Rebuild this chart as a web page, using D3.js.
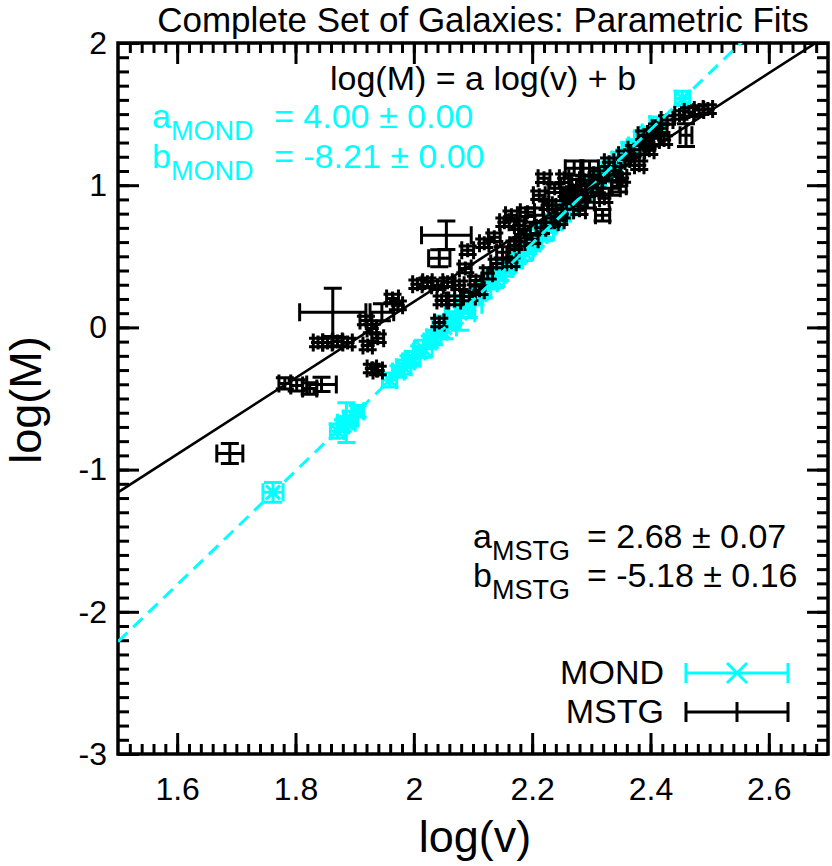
<!DOCTYPE html>
<html><head><meta charset="utf-8">
<script src="https://cdn.jsdelivr.net/npm/d3@7"></script>
<style>body{margin:0;background:#fff;} svg{display:block;font-family:"Liberation Sans",Arial,Helvetica,sans-serif;}</style>
</head><body><svg id="c" width="832" height="866"></svg>
<script>
const xTicks=[1.6,1.8,2,2.2,2.4,2.6];
const xTickLabels=["1.6","1.8","2","2.2","2.4","2.6"];
const yTicks=[-3,-2,-1,0,1,2];
const yTickLabels=["-3","-2","-1","0","1","2"];
const xDomain=[1.5,2.7];
const yDomain=[-3,2];

const fitNames=["MOND","MSTG"];
const fitA=[4.00,2.68];
const fitAErr=[0.00,0.07];
const fitB=[-8.21,-5.18];
const fitBErr=[0.00,0.16];

const mondLogV=[1.762,1.871,1.880,1.886,1.893,1.905,1.959,1.974,1.983,1.991,
1.998,2.009,2.016,2.027,2.034,2.046,2.052,2.063,2.069,2.078,
2.088,2.093,2.104,2.112,2.118,2.131,2.137,2.146,2.155,2.160,
2.171,2.178,2.186,2.193,2.201,2.206,2.215,2.221,2.229,2.238,
2.244,2.252,2.258,2.266,2.273,2.281,2.289,2.297,2.303,2.312,
2.321,2.330,2.338,2.347,2.356,2.364,2.373,2.385,2.396,2.411,
2.454];
const mondLogM=[-1.16,-0.73,-0.69,-0.67,-0.64,-0.59,-0.37,-0.31,-0.28,-0.24,
-0.22,-0.17,-0.15,-0.10,-0.07,-0.03,0.00,0.04,0.07,0.10,
0.14,0.16,0.21,0.24,0.26,0.31,0.34,0.37,0.41,0.43,
0.47,0.50,0.53,0.56,0.59,0.61,0.65,0.67,0.71,0.74,
0.77,0.80,0.82,0.85,0.88,0.91,0.95,0.98,1.00,1.04,
1.07,1.11,1.14,1.18,1.21,1.25,1.28,1.33,1.37,1.43,
1.61];
const mondErrV=[0.017,0.012,0.010,0.015,0.012,0.010,0.012,0.010,0.012,0.010,
0.012,0.010,0.015,0.010,0.012,0.010,0.020,0.012,0.010,0.025,
0.010,0.022,0.012,0.010,0.012,0.010,0.015,0.010,0.012,0.010,
0.012,0.010,0.015,0.010,0.012,0.010,0.010,0.015,0.010,0.012,
0.010,0.012,0.010,0.015,0.010,0.012,0.010,0.012,0.010,0.012,
0.010,0.012,0.010,0.012,0.010,0.012,0.010,0.012,0.010,0.012,
0.012];
const mondErrM=[0.07,0.05,0.04,0.14,0.05,0.04,0.05,0.04,0.05,0.04,
0.05,0.04,0.06,0.04,0.05,0.04,0.08,0.05,0.04,0.12,
0.04,0.09,0.05,0.04,0.05,0.04,0.06,0.04,0.05,0.04,
0.05,0.04,0.06,0.04,0.05,0.04,0.04,0.06,0.04,0.05,
0.04,0.05,0.04,0.06,0.04,0.05,0.04,0.05,0.04,0.05,
0.04,0.05,0.04,0.05,0.04,0.05,0.04,0.05,0.04,0.05,
0.05];

const mstgLogV=[1.689,1.782,1.802,1.824,1.844,1.838,1.854,1.871,1.888,1.863,
1.919,1.929,1.939,1.922,1.946,1.929,1.939,1.964,1.973,2.006,
2.023,2.040,2.057,2.043,2.055,2.087,2.077,2.094,2.111,2.091,
2.119,2.136,2.153,2.165,2.178,2.150,2.192,2.212,2.204,2.226,
2.238,2.254,2.271,2.263,2.288,2.297,2.314,2.334,2.347,2.322,
2.280,2.246,2.319,2.381,2.398,2.389,2.411,2.428,2.449,2.465,
2.482,2.460,2.423,2.356,2.330,2.220,2.170,2.187,2.069,2.047,
2.043,2.165,2.497,2.200,2.215,2.232,2.250,2.268,2.285,2.300,
2.310,2.340,2.365,2.372,2.395,2.405,2.180,2.140,2.125,2.105,
2.240,2.275,2.258,2.352,2.418,2.293];
const mstgLogM=[-0.887,-0.394,-0.408,-0.430,-0.401,-0.106,-0.106,-0.099,-0.106,0.106,
0.049,-0.007,-0.077,-0.127,0.106,-0.289,-0.303,0.204,0.155,0.303,
0.317,0.296,0.317,0.486,0.648,0.415,0.296,0.218,0.261,0.542,
0.592,0.634,0.739,0.789,0.718,0.528,0.810,0.930,0.789,0.859,
0.979,1.049,1.120,0.930,1.035,1.120,1.070,0.979,0.993,0.908,
0.824,0.754,0.789,1.141,1.246,1.352,1.401,1.458,1.493,1.514,
1.528,1.352,1.317,1.211,1.162,1.049,0.577,0.683,0.190,0.190,
0.035,0.458,1.535,0.620,0.700,0.740,0.800,0.870,0.930,0.980,
1.020,1.100,1.170,1.250,1.300,1.360,0.600,0.450,0.380,0.330,
0.860,1.000,0.950,1.050,1.400,0.880];
const mstgErrV=[0.022,0.010,0.010,0.012,0.025,0.008,0.008,0.008,0.008,0.056,
0.010,0.008,0.010,0.008,0.020,0.008,0.008,0.010,0.008,0.008,
0.008,0.010,0.008,0.018,0.042,0.010,0.008,0.010,0.008,0.010,
0.008,0.010,0.008,0.010,0.008,0.010,0.012,0.010,0.015,0.008,
0.010,0.008,0.015,0.010,0.008,0.015,0.010,0.015,0.012,0.008,
0.010,0.008,0.012,0.008,0.008,0.010,0.008,0.010,0.008,0.008,
0.008,0.010,0.008,0.010,0.008,0.010,0.008,0.010,0.010,0.008,
0.008,0.008,0.008,0.010,0.008,0.012,0.008,0.010,0.008,0.010,
0.008,0.010,0.008,0.010,0.008,0.010,0.008,0.010,0.008,0.010,
0.012,0.008,0.010,0.008,0.010,0.012];
const mstgErrM=[0.070,0.040,0.040,0.040,0.050,0.030,0.030,0.030,0.030,0.170,
0.030,0.030,0.030,0.030,0.060,0.030,0.030,0.030,0.030,0.030,
0.030,0.030,0.030,0.060,0.100,0.030,0.030,0.030,0.030,0.030,
0.030,0.030,0.030,0.030,0.030,0.040,0.030,0.030,0.050,0.030,
0.030,0.030,0.050,0.030,0.030,0.050,0.030,0.050,0.040,0.030,
0.030,0.030,0.040,0.030,0.030,0.030,0.030,0.030,0.030,0.030,
0.030,0.080,0.030,0.030,0.030,0.030,0.030,0.030,0.030,0.030,
0.030,0.030,0.030,0.030,0.040,0.030,0.030,0.040,0.030,0.030,
0.040,0.030,0.030,0.030,0.040,0.030,0.030,0.030,0.040,0.030,
0.030,0.040,0.030,0.030,0.030,0.040];

const CYAN="#00ffff";
const svg=d3.select("#c");
const L=118,R=828,T=43,B=754;
const x=d3.scaleLinear().domain(xDomain).range([L,R]);
const y=d3.scaleLinear().domain(yDomain).range([B,T]);

svg.append("defs").append("clipPath").attr("id","clip")
  .append("rect").attr("x",L).attr("y",T).attr("width",R-L).attr("height",B-T);

// axes: ticks inward on all four sides
const majX=21,minX=10,majY=21,minY=11;
const xMinor=d3.range(61).map(i=>1.5+i*0.02).filter(v=>v<2.7-1e-9 && v>1.5+1e-9);
const yMinor=d3.range(51).map(i=>-3+i*0.1).filter(v=>v<2-1e-9 && v>-3+1e-9);
const axB=d3.axisBottom(x).tickValues(xTicks).tickFormat((d,i)=>xTickLabels[i]).tickSizeInner(-majX).tickSizeOuter(0).tickPadding(23);
const axL=d3.axisLeft(y).tickValues(yTicks).tickFormat((d,i)=>yTickLabels[i]).tickSizeInner(-majY).tickSizeOuter(0).tickPadding(11);
svg.append("g").attr("transform",`translate(0,${B})`).call(axB);
svg.append("g").attr("transform",`translate(${L},0)`).call(axL);
svg.append("g").attr("transform",`translate(0,${T})`).call(d3.axisTop(x).tickValues(xTicks).tickFormat("").tickSizeInner(-majX).tickSizeOuter(0));
svg.append("g").attr("transform",`translate(${R},0)`).call(d3.axisRight(y).tickValues(yTicks).tickFormat("").tickSizeInner(-majY).tickSizeOuter(0));
svg.append("g").attr("transform",`translate(0,${B})`).call(d3.axisBottom(x).tickValues(xMinor).tickFormat("").tickSizeInner(-minX).tickSizeOuter(0));
svg.append("g").attr("transform",`translate(0,${T})`).call(d3.axisTop(x).tickValues(xMinor).tickFormat("").tickSizeInner(-minX).tickSizeOuter(0));
svg.append("g").attr("transform",`translate(${L},0)`).call(d3.axisLeft(y).tickValues(yMinor).tickFormat("").tickSizeInner(-minY).tickSizeOuter(0));
svg.append("g").attr("transform",`translate(${R},0)`).call(d3.axisRight(y).tickValues(yMinor).tickFormat("").tickSizeInner(-minY).tickSizeOuter(0));
svg.selectAll(".domain").remove();
svg.selectAll(".tick line").attr("stroke","#000").attr("stroke-width",3);
svg.selectAll(".tick text").attr("fill","#000").attr("font-size",32).attr("font-family","'Liberation Sans',Arial,sans-serif");
svg.append("rect").attr("x",L).attr("y",T).attr("width",R-L).attr("height",B-T)
  .attr("fill","none").attr("stroke","#000").attr("stroke-width",3.5);

const plot=svg.append("g").attr("clip-path","url(#clip)");
const CAP=9, MK=7, SW=3;

function errorPoint(g, vx, vy, ex, ey, color, marker){
  const cx=x(vx), cy=y(vy);
  const x1=x(vx-ex), x2=x(vx+ex), y1=y(vy+ey), y2=y(vy-ey);
  const p=d3.path();
  p.moveTo(x1,cy); p.lineTo(x2,cy);
  p.moveTo(x1,cy-CAP); p.lineTo(x1,cy+CAP);
  p.moveTo(x2,cy-CAP); p.lineTo(x2,cy+CAP);
  p.moveTo(cx,y1); p.lineTo(cx,y2);
  p.moveTo(cx-CAP,y1); p.lineTo(cx+CAP,y1);
  p.moveTo(cx-CAP,y2); p.lineTo(cx+CAP,y2);
  if(marker==="x"){
    p.moveTo(cx-MK,cy-MK); p.lineTo(cx+MK,cy+MK);
    p.moveTo(cx-MK,cy+MK); p.lineTo(cx+MK,cy-MK);
  } else {
    p.moveTo(cx-MK,cy); p.lineTo(cx+MK,cy);
    p.moveTo(cx,cy-MK); p.lineTo(cx,cy+MK);
  }
  g.append("path").attr("d",p.toString()).attr("fill","none").attr("stroke",color).attr("stroke-width",SW);
}

const gMond=plot.append("g");
mondLogV.forEach((v,i)=>errorPoint(gMond,v,mondLogM[i],mondErrV[i],mondErrM[i],CYAN,"x"));
const gMstg=plot.append("g");
mstgLogV.forEach((v,i)=>errorPoint(gMstg,v,mstgLogM[i],mstgErrV[i],mstgErrM[i],"#000","+"));

// fit lines
const lineGen=d3.line().x(d=>x(d[0])).y(d=>y(d[1]));
const fitLine=i=>xDomain.map(v=>[v,fitA[i]*v+fitB[i]]);
plot.append("path").attr("d",lineGen(fitLine(0))).attr("fill","none").attr("stroke",CYAN)
  .attr("stroke-width",3).attr("stroke-dasharray","13,8");
plot.append("path").attr("d",lineGen(fitLine(1))).attr("fill","none").attr("stroke","#000")
  .attr("stroke-width",2.6);

// Texts
svg.append("text").attr("x",483).attr("y",32).attr("text-anchor","middle").attr("font-size",35)
  .text("Complete Set of Galaxies: Parametric Fits");
svg.append("text").attr("x",475).attr("y",852).attr("text-anchor","middle").attr("font-size",45)
  .text("log(v)");
svg.append("text").attr("transform","translate(41,400) rotate(-90)").attr("text-anchor","middle").attr("font-size",45)
  .text("log(M)");
svg.append("text").attr("x",483).attr("y",90).attr("text-anchor","middle").attr("font-size",34)
  .text("log(M) = a log(v) + b");

function fitText(px, py, letter, name, val, err, color, eqX){
  const t=svg.append("text").attr("x",px).attr("y",py).attr("font-size",34).attr("fill",color);
  t.append("tspan").text(letter);
  t.append("tspan").attr("dy",12).attr("font-size",27).text(name);
  svg.append("text").attr("x",eqX).attr("y",py).attr("font-size",34).attr("fill",color)
    .text(`= ${val.toFixed(2)} \u00b1 ${err.toFixed(2)}`);
}
fitText(152,128,"a",fitNames[0],fitA[0],fitAErr[0],CYAN,274);
fitText(152,168,"b",fitNames[0],fitB[0],fitBErr[0],CYAN,274);
fitText(473,548,"a",fitNames[1],fitA[1],fitAErr[1],"#000",587);
fitText(473,587,"b",fitNames[1],fitB[1],fitBErr[1],"#000",587);

// Legend
const legColors=[CYAN,"#000"], legMarkers=["x","+"], legY=[673,712];
fitNames.forEach((n,i)=>{
  svg.append("text").attr("x",664).attr("y",legY[i]+11).attr("text-anchor","end").attr("font-size",34).text(n);
  const p=d3.path(), cy=legY[i], x1=686, x2=788, cx=737;
  p.moveTo(x1,cy); p.lineTo(x2,cy);
  p.moveTo(x1,cy-10); p.lineTo(x1,cy+10);
  p.moveTo(x2,cy-10); p.lineTo(x2,cy+10);
  if(legMarkers[i]==="x"){
    p.moveTo(cx-10,cy-10); p.lineTo(cx+10,cy+10);
    p.moveTo(cx-10,cy+10); p.lineTo(cx+10,cy-10);
  } else {
    p.moveTo(cx,cy-10); p.lineTo(cx,cy+10);
  }
  svg.append("path").attr("d",p.toString()).attr("fill","none").attr("stroke",legColors[i]).attr("stroke-width",3);
});
</script></body></html>
